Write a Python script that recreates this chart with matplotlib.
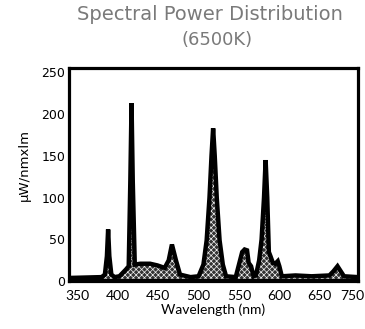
import matplotlib
matplotlib.use("Agg")
import matplotlib.pyplot as plt

# Spectral power distribution of a 6500K fluorescent lamp
wavelength_nm = [340, 380, 384, 386.5, 388, 389.5, 392, 396, 402, 410, 413.5,
                 415.5, 417, 418.5, 421, 428, 440, 449, 458, 463, 467, 472,
                 477, 490, 500, 506, 510, 513.5, 516, 518, 520, 522.5, 526,
                 530, 534, 546, 550, 554, 557, 560, 562, 565, 568, 571,
                 575, 578, 581, 583, 585, 587, 589, 592, 595, 598, 600,
                 603, 620, 640, 662, 667, 672, 676, 680, 697]
power = [4, 5, 8, 30, 62, 30, 8, 5, 6, 14, 18,
         120, 213, 120, 20, 21, 21, 19, 16, 25, 44, 25,
         8, 5, 6, 20, 49, 100, 150, 183, 150, 100, 49,
         20, 6, 5, 20, 35, 38, 37, 22, 18, 6, 7,
         25, 50, 100, 145, 100, 35, 30, 22, 21, 24, 18,
         6, 7, 6, 7, 12, 18, 12, 6, 5]

x_ticks = [350, 400, 450, 500, 550, 600, 650, 690]
x_tick_labels = ["350", "400", "450", "500", "550", "600", "650", "750"]
y_ticks = [0, 50, 100, 150, 200, 250]

plt.rcParams["hatch.linewidth"] = 0.5

fig = plt.figure(figsize=(3.65, 3.29), dpi=100)
ax = fig.add_axes([0.19, 0.145, 0.79, 0.648])

ax.fill_between(wavelength_nm, 0, power, facecolor="#333333",
                edgecolor="#f0f0f0", hatch="xxxxxx", linewidth=0, zorder=2)
ax.plot(wavelength_nm, power, color="black", linewidth=3.2,
        solid_joinstyle="miter", zorder=3)
ax.plot([wavelength_nm[0], wavelength_nm[-1]], [0, 0], color="black",
        linewidth=3, zorder=3)

ax.set_xlim(340, 697)
ax.set_ylim(0, 255)
ax.set_xticks(x_ticks)
ax.set_xticklabels(x_tick_labels, family="Lato", fontsize=10)
ax.set_yticks(y_ticks)
ax.set_yticklabels([str(v) for v in y_ticks], family="DejaVu Sans",
                   fontsize=9)
ax.tick_params(axis="both", length=0)
ax.tick_params(axis="x", pad=6)
ax.tick_params(axis="y", pad=3)

for side in ax.spines.values():
    side.set_linewidth(2.3)
    side.set_color("black")

ax.set_xlabel("Wavelength (nm)", family="Lato", fontsize=10, labelpad=1)
ax.set_ylabel("µW/nmxlm", family="DejaVu Sans", fontsize=9.5)
ax.yaxis.set_label_coords(-0.135, 0.545)

fig.text(0.575, 0.955, "Spectral Power Distribution", ha="center",
         va="center", fontsize=14, color="#7a7a7a", family="DejaVu Sans")
fig.text(0.595, 0.878, "(6500K)", ha="center", va="center", fontsize=13,
         color="#7a7a7a", family="DejaVu Sans")

fig.savefig("out.png", dpi=100, facecolor="white")
